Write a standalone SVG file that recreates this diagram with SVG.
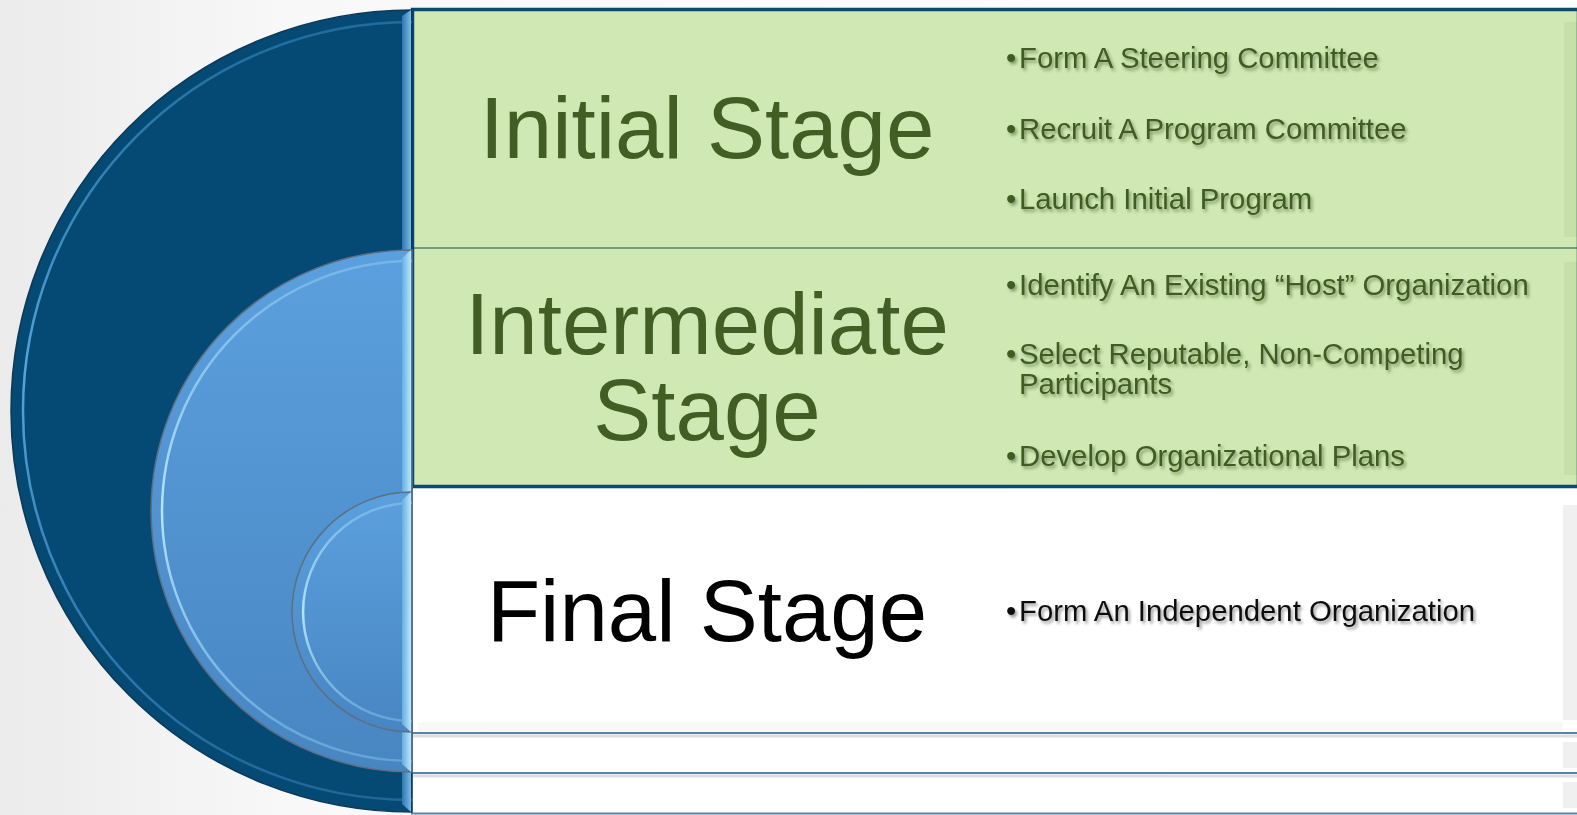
<svg xmlns="http://www.w3.org/2000/svg" width="1577" height="815" viewBox="0 0 1577 815">
<defs>
<linearGradient id="bg" x1="0" y1="0" x2="1" y2="0">
<stop offset="0" stop-color="#ebebeb"/>
<stop offset="0.18" stop-color="#f8f8f8"/>
<stop offset="1" stop-color="#ffffff"/>
</linearGradient>
<linearGradient id="midFill" x1="0" y1="0" x2="0" y2="1">
<stop offset="0" stop-color="#5ba0de"/>
<stop offset="1" stop-color="#4886c2"/>
</linearGradient>
<linearGradient id="hiDark" x1="0" y1="0" x2="0" y2="1">
<stop offset="0" stop-color="#3f8cc4" stop-opacity="0.5"/>
<stop offset="0.45" stop-color="#5aa9e0" stop-opacity="0.95"/>
<stop offset="1" stop-color="#3f8cc4" stop-opacity="0.45"/>
</linearGradient>
<linearGradient id="hiLight" x1="0" y1="0" x2="0" y2="1">
<stop offset="0" stop-color="#8fcdf4" stop-opacity="0.5"/>
<stop offset="0.5" stop-color="#b4e3fc" stop-opacity="1"/>
<stop offset="1" stop-color="#8fcdf4" stop-opacity="0.4"/>
</linearGradient>
<linearGradient id="stripDark" x1="0" y1="0" x2="1" y2="0">
<stop offset="0" stop-color="#2f77ad"/>
<stop offset="1" stop-color="#7bbbe6"/>
</linearGradient>
<linearGradient id="stripLight" x1="0" y1="0" x2="1" y2="0">
<stop offset="0" stop-color="#66aee2"/>
<stop offset="1" stop-color="#b9e6fc"/>
</linearGradient>
<filter id="tshadow" x="-5%" y="-30%" width="110%" height="160%">
<feDropShadow dx="2" dy="2.5" stdDeviation="1.8" flood-color="#2d3a1c" flood-opacity="0.45"/>
</filter>
<filter id="kshadow" x="-5%" y="-30%" width="110%" height="160%">
<feDropShadow dx="2" dy="2.5" stdDeviation="1.8" flood-color="#000000" flood-opacity="0.4"/>
</filter>
</defs>
<style>
.title{font-family:"Liberation Sans",Arial,sans-serif;font-size:87px;text-anchor:middle}
.green{fill:#435e24}
.black{fill:#000000}
.bul{font-family:"Liberation Sans",Arial,sans-serif;font-size:29.3px}
.bg{fill:#3f5b22}
.bk{fill:#111111}
.rowG{fill:#cfe8b4}
.rowW{fill:#ffffff}
.sep{stroke:#5b82a8;stroke-width:2;fill:none}
.sepsh{stroke:#000000;stroke-opacity:0.13;stroke-width:3;fill:none}
</style>

<rect x="0" y="0" width="1577" height="815" fill="url(#bg)"/>

<!-- rows -->
<g id="row-final">
<rect x="411" y="489" width="1166" height="245" class="rowW"/>
<rect x="1563" y="505" width="14" height="215" fill="#f0f0f0"/>
<rect x="418" y="722" width="1145" height="10" fill="#f8f8f8"/>
</g>
<g id="row-mid-base">
<rect x="411" y="735" width="1166" height="38" class="rowW"/>
<rect x="1563" y="742" width="14" height="26" fill="#f0f0f0"/>
</g>
<g id="row-dark-base">
<rect x="411" y="775" width="1166" height="38" class="rowW"/>
<rect x="1563" y="782" width="14" height="26" fill="#f0f0f0"/>
</g>
<g id="row-lines">
<line x1="411" y1="736" x2="1577" y2="736" class="sepsh"/>
<line x1="411" y1="733" x2="1577" y2="733" class="sep"/>
<line x1="411" y1="776" x2="1577" y2="776" class="sepsh"/>
<line x1="411" y1="773" x2="1577" y2="773" class="sep"/>
<line x1="411" y1="813.5" x2="1577" y2="813.5" class="sep"/>
<line x1="411.5" y1="489" x2="411.5" y2="813" stroke="#6f7f8d" stroke-width="1.5"/>
</g>

<g id="row-initial">
<rect x="411" y="9" width="1166" height="239" class="rowG"/>
<rect x="1564" y="22" width="13" height="215" fill="#c6dfab"/>
</g>
<g id="row-intermediate">
<rect x="411" y="248" width="1166" height="239" class="rowG"/>
<rect x="1564" y="262" width="13" height="213" fill="#c6dfab"/>
</g>
<line x1="413" y1="248" x2="1577" y2="248" stroke="#6f9a83" stroke-width="2"/>
<rect x="412.5" y="9.5" width="1166" height="477" fill="none" stroke="#0b4a70" stroke-width="3.5"/>

<!-- semicircles -->
<g id="arc-dark">
<path d="M412 10 A401 401 0 0 0 412 812 Z" fill="#044a74" stroke="#0b3a58" stroke-width="1.5"/>
<path d="M412 22 A389 389 0 0 0 412 800" fill="none" stroke="url(#hiDark)" stroke-width="2.5"/>
<path d="M402 16 L411 10 L411 812 L402 804 Z" fill="url(#stripDark)"/>
</g>
<g id="arc-mid">
<path d="M412 250 A261 261 0 0 0 412 772 Z" fill="url(#midFill)" stroke="#5d6f80" stroke-width="1.5"/>
<path d="M412 261 A250 250 0 0 0 412 761" fill="none" stroke="url(#hiLight)" stroke-width="2.5"/>
<path d="M402 258 L411 250 L411 772 L402 764 Z" fill="url(#stripLight)"/>
</g>
<g id="arc-small">
<path d="M412 492 A120 120 0 0 0 412 732 Z" fill="url(#midFill)" stroke="#5d6f80" stroke-width="1.5"/>
<path d="M412 503 A109 109 0 0 0 412 721" fill="none" stroke="url(#hiLight)" stroke-width="2.5"/>
<path d="M402 500 L411 492 L411 732 L402 724 Z" fill="url(#stripLight)"/>
</g>

<!-- titles -->
<g id="title-initial"><text class="title green" x="707" y="158">Initial Stage</text></g>
<g id="title-intermediate"><text class="title green" x="707" y="354">Intermediate</text><text class="title green" x="707" y="440">Stage</text></g>
<g id="title-final"><text class="title black" x="707" y="641">Final Stage</text></g>

<!-- bullets -->
<g id="bullets-initial" class="bul bg" filter="url(#tshadow)">
<text x="1006" y="68">•</text><text x="1019" y="68">Form A Steering Committee</text>
<text x="1006" y="139">•</text><text x="1019" y="139">Recruit A Program Committee</text>
<text x="1006" y="209">•</text><text x="1019" y="209">Launch Initial Program</text>
</g>
<g id="bullets-intermediate" class="bul bg" filter="url(#tshadow)">
<text x="1006" y="295">•</text><text x="1019" y="295">Identify An Existing “Host” Organization</text>
<text x="1006" y="364">•</text><text x="1019" y="364">Select Reputable, Non-Competing</text>
<text x="1019" y="394">Participants</text>
<text x="1006" y="466">•</text><text x="1019" y="466">Develop Organizational Plans</text>
</g>
<g id="bullets-final" class="bul bk" filter="url(#kshadow)">
<text x="1006" y="621">•</text><text x="1019" y="621">Form An Independent Organization</text>
</g>
<g id="connectors"></g>
</svg>
